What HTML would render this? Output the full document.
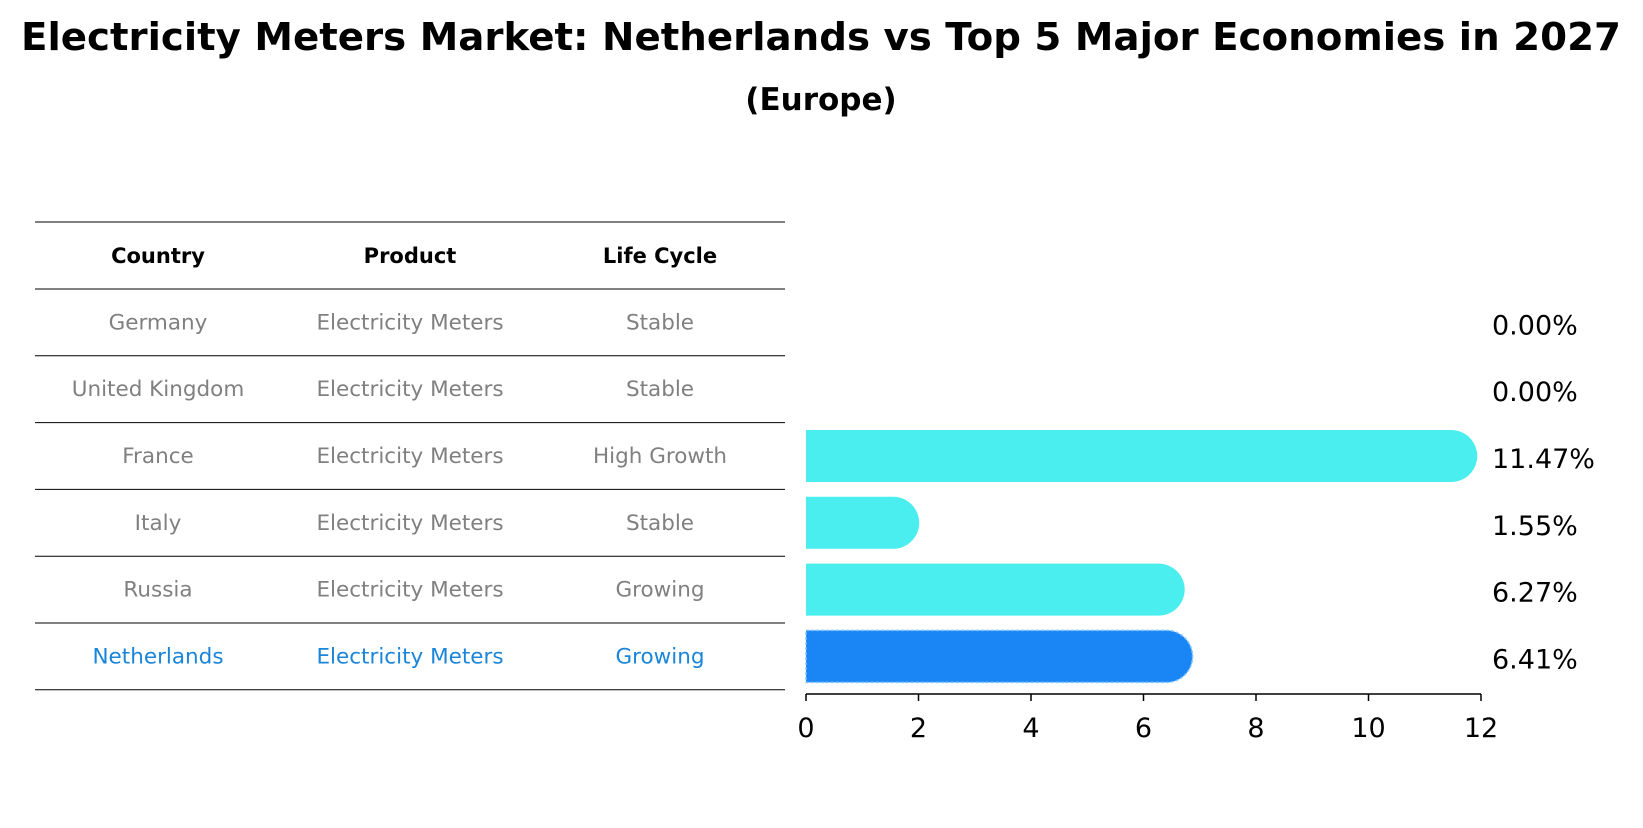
<!DOCTYPE html>
<html><head><meta charset="utf-8"><style>
body{margin:0;background:#fff;}
svg text{font-family:"DejaVu Sans","Liberation Sans",sans-serif;}
</style></head><body>
<svg id="c" width="1643" height="823" viewBox="0 0 1643 823" xmlns="http://www.w3.org/2000/svg">
<text x="821" y="50" text-anchor="middle" font-size="38" font-weight="bold" textLength="1600" lengthAdjust="spacingAndGlyphs">Electricity Meters Market: Netherlands vs Top 5 Major Economies in 2027</text>
<text x="821" y="110" text-anchor="middle" font-size="31" font-weight="bold">(Europe)</text>
<g id="table"></g>
<g id="bars"></g>
</svg>
<script>
const countries=["Germany","United Kingdom","France","Italy","Russia","Netherlands"];
const products=["Electricity Meters","Electricity Meters","Electricity Meters","Electricity Meters","Electricity Meters","Electricity Meters"];
const lifeCycles=["Stable","Stable","High Growth","Stable","Growing","Growing"];
const values=[0.00,0.00,11.47,1.55,6.27,6.41];
const ticks=[0,2,4,6,8,10,12];
const NS="http://www.w3.org/2000/svg";
function mk(t,a,p){const e=document.createElementNS(NS,t);for(const k in a)e.setAttribute(k,a[k]);p.appendChild(e);return e;}
const x0=806,x1=1481,xmax=12;
const xs=v=>x0+(x1-x0)*v/xmax;
const rowTop=289,rowH=66.8;
const yc=i=>rowTop+rowH*(i+0.5);
const tb=document.getElementById('table');
const cols=[158,410,660];
const hdr=["Country","Product","Life Cycle"];
hdr.forEach((h,j)=>{const t=mk('text',{x:cols[j],y:263,'text-anchor':'middle','font-size':21,'font-weight':'bold'},tb);t.textContent=h;

});
for(let i=0;i<=countries.length+1;i++){
  const y=i==0?222:rowTop+rowH*(i-1);
  const l=mk('line',{x1:35,x2:785,y1:y,y2:y,stroke:'#000','stroke-width':1},tb);
  
  
}
countries.forEach((c,i)=>{
  const col=i==countries.length-1?'#1a85d9':'#808080';
  [c,products[i],lifeCycles[i]].forEach((s,j)=>{
    const t=mk('text',{x:cols[j],y:yc(i)+7,'text-anchor':'middle','font-size':21.5,fill:col},tb);t.textContent=s;
    
    
  });
});
const bg=document.getElementById('bars');
const bh=52;
values.forEach((v,i)=>{
  const y=yc(i);
  const hl=i==values.length-1;
  if(v>0){
    const w=xs(v)-x0, r=bh/2;
    const d=`M${x0},${y-r} H${x0+w} A${r},${r} 0 0 1 ${x0+w},${y+r} H${x0} Z`;
    const p=mk('path',{d:d,fill:hl?'#1a85f5':'#4aeeee',stroke:hl?'#7fc4ff':'none','stroke-width':hl?1.5:0,'stroke-dasharray':hl?'3,2':'none'},bg);
    
    
  }
  const t=mk('text',{x:1492,y:y+12,'font-size':27},bg);t.textContent=v.toFixed(2)+'%';
  
  
});
const ax=mk('line',{x1:x0,x2:x1,y1:694,y2:694,stroke:'#000','stroke-width':1.5},bg);


ticks.forEach(tv=>{
  const x=xs(tv);
  const l=mk('line',{x1:x,x2:x,y1:694,y2:701,stroke:'#000','stroke-width':1.5},bg);
  
  
  const t=mk('text',{x:x,y:737,'text-anchor':'middle','font-size':27},bg);t.textContent=tv;
  
  
});
</script>
</body></html>
